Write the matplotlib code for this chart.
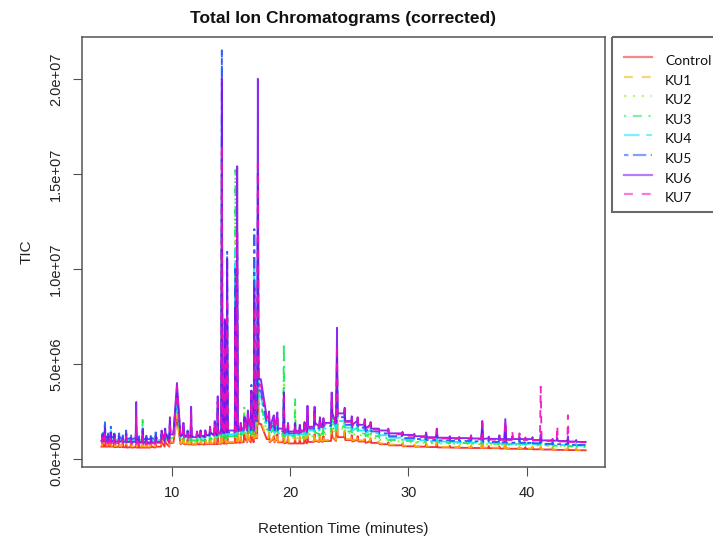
import numpy as np
import matplotlib
matplotlib.use("Agg")
import matplotlib.pyplot as plt
from matplotlib.patches import Rectangle

W, H = 713, 546
plt.rcParams["font.family"] = ["Liberation Sans", "DejaVu Sans"]

samples = ["Control", "KU1", "KU2", "KU3", "KU4", "KU5", "KU6", "KU7"]

# baseline of each run (TIC, x1e6) at these retention times (min)
knot_rt = [4, 5, 6, 7, 8, 9, 10, 11, 12, 13, 14, 15, 16, 17, 17.5, 18, 19, 20, 21, 22,
           23, 24, 25, 26, 27, 28, 29, 30, 31, 32, 33, 34, 35, 36, 37, 38, 39, 40, 41,
           42, 43, 44, 45]

control_base = [0.65, 0.65, 0.62, 0.6, 0.6, 0.65, 0.85, 0.78, 0.76, 0.78, 0.8, 0.85, 0.88, 1.1,
                1.85, 1.05, 0.88, 0.82, 0.82, 0.9, 0.95, 1.15, 1.0, 0.92, 0.85, 0.78, 0.72, 0.67,
                0.65, 0.63, 0.61, 0.6, 0.59, 0.58, 0.57, 0.55, 0.54, 0.53, 0.51, 0.5, 0.48, 0.47, 0.46]
ku1_base = [0.7, 0.7, 0.68, 0.66, 0.66, 0.7, 0.9, 0.82, 0.8, 0.82, 0.85, 0.9, 0.92, 1.15,
            2.0, 1.1, 0.92, 0.88, 0.88, 0.95, 1.0, 1.2, 1.05, 0.98, 0.9, 0.82, 0.76, 0.7,
            0.68, 0.66, 0.64, 0.63, 0.62, 0.61, 0.6, 0.58, 0.57, 0.56, 0.54, 0.52, 0.5, 0.49, 0.48]
ku2_base = [0.9, 0.9, 0.85, 0.85, 0.85, 0.88, 1.05, 0.95, 0.92, 0.95, 1.05, 1.15, 1.2, 1.5,
            2.7, 1.45, 1.2, 1.1, 1.1, 1.2, 1.3, 1.6, 1.35, 1.25, 1.1, 1.0, 0.93, 0.88,
            0.85, 0.83, 0.81, 0.8, 0.79, 0.78, 0.76, 0.75, 0.74, 0.73, 0.71, 0.69, 0.67, 0.65, 0.63]
ku3_base = [0.95, 0.95, 0.9, 0.9, 0.9, 0.92, 1.1, 1.0, 0.98, 1.0, 1.1, 1.2, 1.3, 1.6,
            2.9, 1.55, 1.3, 1.2, 1.2, 1.3, 1.4, 1.7, 1.45, 1.35, 1.2, 1.1, 1.0, 0.95,
            0.9, 0.88, 0.86, 0.85, 0.84, 0.82, 0.8, 0.8, 0.78, 0.77, 0.75, 0.72, 0.7, 0.68, 0.66]
ku4_base = [1.05, 1.05, 1.0, 0.98, 0.98, 1.0, 1.25, 1.15, 1.1, 1.15, 1.25, 1.3, 1.4, 1.85,
            3.3, 1.75, 1.35, 1.25, 1.3, 1.5, 1.6, 2.0, 1.65, 1.5, 1.35, 1.25, 1.12, 1.02,
            0.98, 0.94, 0.92, 0.9, 0.88, 0.86, 0.84, 0.82, 0.8, 0.8, 0.78, 0.76, 0.74, 0.72, 0.7]
ku5_base = [1.15, 1.15, 1.1, 1.05, 1.05, 1.1, 1.35, 1.25, 1.2, 1.25, 1.35, 1.4, 1.5, 2.0,
            3.6, 1.9, 1.45, 1.35, 1.4, 1.6, 1.75, 2.2, 1.8, 1.65, 1.45, 1.35, 1.2, 1.1,
            1.05, 1.0, 0.98, 0.96, 0.95, 0.93, 0.9, 0.88, 0.86, 0.85, 0.83, 0.8, 0.78, 0.75, 0.74]
ku6_base = [0.95, 0.95, 0.9, 0.9, 0.85, 0.9, 1.3, 1.2, 1.15, 1.25, 1.4, 1.5, 1.6, 2.2,
            4.2, 2.2, 1.6, 1.45, 1.5, 1.7, 1.9, 2.4, 2.0, 1.8, 1.6, 1.5, 1.35, 1.27,
            1.2, 1.15, 1.12, 1.1, 1.1, 1.08, 1.06, 1.05, 1.05, 1.05, 1.0, 0.98, 0.95, 0.92, 0.9]
ku7_base = [0.85, 0.85, 0.8, 0.8, 0.8, 0.85, 1.2, 1.15, 1.1, 1.2, 1.35, 1.45, 1.55, 2.1,
            3.9, 2.1, 1.55, 1.4, 1.45, 1.65, 1.85, 2.3, 1.95, 1.75, 1.55, 1.45, 1.3, 1.22,
            1.15, 1.1, 1.08, 1.06, 1.05, 1.04, 1.02, 1.0, 1.0, 1.0, 0.98, 0.95, 0.92, 0.9, 0.88]

# main peaks: retention time, half width (min) and apex of each run (x1e6, None = no peak)
peak_rt = [4.3, 4.8, 5.1, 6.1, 6.95, 7.5, 8.6, 9.1, 9.8, 10.4, 10.95, 11.6, 12.4, 13.6, 13.85,
           14.2, 14.45, 14.65, 15.35, 15.5, 16.1, 16.7, 16.95, 17.25, 18.6, 19.45, 20.4, 21.45,
           22.05, 23.5, 23.95, 26.3, 27.5, 31.5, 32.4, 35.3, 36.25, 37.7, 38.2, 38.8, 39.4,
           41.2, 42.6, 43.5]
peak_hw = [0.05, 0.05, 0.05, 0.05, 0.05, 0.05, 0.05, 0.05, 0.05, 0.3, 0.05, 0.05, 0.05, 0.05, 0.05,
           0.05, 0.05, 0.05, 0.05, 0.05, 0.05, 0.05, 0.05, 0.06, 0.06, 0.05, 0.05, 0.05,
           0.05, 0.06, 0.08, 0.07, 0.06, 0.06, 0.06, 0.05, 0.08, 0.05, 0.08, 0.05, 0.05,
           0.07, 0.05, 0.05]

control_apex = [1.0, 0.9, 0.95, 0.9, 0.95, 1.0, 0.85, 0.95, 1.2, 2.2, 1.1, 1.05, 0.9, 1.1, 1.6,
                11.0, 3.2, 5.0, 6.5, 6.5, 1.4, 2.0, 5.0, 7.0, 1.2, 1.8, 1.1, 1.2,
                1.3, 1.5, 2.6, 1.05, 0.85, 0.8, 0.9, 0.68, 1.0, 0.66, 1.0, None, 0.6,
                0.62, None, 0.6]
ku1_apex = [1.1, 0.95, 1.0, 0.95, 1.0, 1.1, 0.9, 1.0, 1.3, 2.3, 1.2, 1.1, 0.95, 1.2, 1.8,
            12.0, 3.5, 5.5, 7.0, 7.0, 1.5, 2.2, 5.5, 8.0, 1.3, 2.0, 1.2, 1.3,
            1.4, 1.6, 2.8, 1.1, 0.9, 0.85, 0.95, 0.72, 1.05, 0.7, 1.05, None, 0.65,
            0.65, None, 0.62]
ku2_apex = [1.4, 1.2, 1.2, 1.2, 1.3, 1.8, 1.15, 1.25, 1.6, 2.8, 1.4, 1.4, 1.15, 1.5, 2.2,
            15.0, 4.5, 7.0, 13.0, 8.5, 2.5, 2.8, 7.5, 10.0, 1.7, 4.5, 2.6, 1.8,
            1.9, 2.2, 3.8, 1.4, 1.15, 1.05, 1.2, 0.9, 1.4, 0.9, 1.4, None, 0.85,
            0.85, None, 0.8]
ku3_apex = [1.5, 1.3, 1.25, 1.25, 1.4, 2.2, 1.2, 1.3, 1.7, 3.0, 1.5, 1.5, 1.2, 1.6, 2.4,
            16.0, 5.0, 7.5, 15.2, 9.0, 2.7, 3.0, 8.0, 11.0, 1.8, 6.1, 3.2, 1.9,
            2.0, 2.4, 4.2, 1.5, 1.25, 1.1, 1.25, 0.95, 1.5, 0.95, 1.5, None, 0.9,
            0.9, None, 0.85]
ku4_apex = [1.7, 1.5, 1.35, 1.35, 1.5, 1.55, 1.3, 1.4, 1.9, 3.3, 1.7, 1.8, 1.4, 1.8, 2.8,
            18.0, 6.0, 9.0, 11.0, 11.0, 2.0, 3.5, 10.0, 13.0, 2.0, 3.0, 1.7, 2.2,
            2.3, 2.8, 5.0, 1.75, 1.35, 1.2, 1.35, 1.0, 1.7, 1.0, 1.7, None, 0.95,
            1.0, None, 0.95]
ku5_apex = [2.0, 1.7, 1.45, 1.5, 1.6, 1.6, 1.4, 1.5, 2.0, 3.5, 1.8, 2.0, 1.5, 1.9, 3.0,
            21.5, 7.4, 10.9, 10.0, 12.0, 2.1, 3.9, 12.1, 15.0, 2.1, 3.3, 1.8, 2.4,
            2.5, 3.0, 5.5, 1.9, 1.45, 1.25, 1.45, 1.1, 1.8, 1.05, 1.85, None, 1.0,
            1.1, None, 1.0]
ku6_apex = [1.6, 1.4, 1.3, 1.3, 3.0, 1.5, 1.2, 1.5, 2.2, 4.0, 1.9, 2.75, 1.5, 2.0, 3.3,
            20.0, 7.3, 10.5, 8.0, 15.4, 2.2, 3.6, 9.0, 20.0, 2.3, 3.5, 1.9, 2.8,
            2.75, 3.5, 6.9, 2.1, 1.6, 1.4, 1.6, 1.25, 2.0, 1.25, 2.1, 1.2, 1.15,
            1.3, 1.1, 1.2]
ku7_apex = [1.4, 1.2, 1.15, 1.2, 2.2, 1.4, 1.1, 1.4, 2.0, 3.8, 1.8, 2.4, 1.4, 1.9, 3.0,
            16.5, 6.0, 8.5, 7.0, 12.0, 2.1, 3.4, 8.0, 15.5, 2.2, 3.2, 1.8, 2.6,
            2.6, 3.3, 6.0, 2.0, 1.55, 1.35, 1.55, 1.2, 1.9, 1.2, 2.0, 1.45, 1.35,
            3.8, 1.75, 2.3]

# small baseline peaks seen in every run: time (min) and rise above baseline (x1e6)
minor_rt = [4.1, 4.55, 5.5, 5.8, 6.5, 7.2, 7.8, 8.2, 9.4, 11.3, 12.1, 12.8, 13.2, 15.8,
            16.4, 18.2, 18.9, 19.8, 20.8, 21.2, 22.5, 22.8, 24.6, 25.2, 25.7, 26.8, 28.3,
            29.5, 30.5, 33.5, 34.3, 36.8, 39.9, 40.5, 42.2, 44.2]
minor_rise = [0.3, 0.25, 0.2, 0.15, 0.2, 0.15, 0.25, 0.2, 0.25, 0.25, 0.2, 0.25, 0.3, 0.3,
              0.35, 0.3, 0.25, 0.3, 0.3, 0.25, 0.3, 0.25, 0.3, 0.25, 0.2, 0.15, 0.1,
              0.08, 0.06, 0.08, 0.06, 0.1, 0.08, 0.1, 0.08, 0.08]

bases = [control_base, ku1_base, ku2_base, ku3_base, ku4_base, ku5_base, ku6_base, ku7_base]
apexes = [control_apex, ku1_apex, ku2_apex, ku3_apex, ku4_apex, ku5_apex, ku6_apex, ku7_apex]

colors = ["#F82020", "#F8B010", "#80F020", "#10E850", "#10E8F0", "#2050F8", "#8010F0", "#F010B8"]
styles = ["-", (0, (4, 4)), (0, (1, 3)), (0, (1, 3, 4, 3)), (0, (7, 3)),
          (0, (2, 2, 6, 2)), "-", (0, (4, 4))]


def trace(base, apex):
    knots = np.asarray(knot_rt, dtype=float)
    pts = list(zip(knots, base))
    for t, hw, a in zip(peak_rt, peak_hw, apex):
        if a is None:
            continue
        i = int(np.searchsorted(knots, t))
        pts += [(t - hw, base[i - 1]), (t, a), (t + hw, base[i])]
    for t, rise in zip(minor_rt, minor_rise):
        i = int(np.searchsorted(knots, t))
        top = max(base[i - 1], base[i]) + rise
        pts += [(t - 0.05, base[i - 1]), (t, top), (t + 0.05, base[i])]
    pts.sort()
    t, y = np.array(pts).T
    return t, y * 1e6


fig = plt.figure(figsize=(W / 100, H / 100), dpi=100)
ax = fig.add_axes([82 / W, 1 - 467 / H, (605 - 82) / W, (467 - 37) / H])

for base, apex, col, ls in zip(bases, apexes, colors, styles):
    t, y = trace(base, apex)
    ax.plot(t, y, color=col, ls=ls, lw=1.35, alpha=0.9)

ax.set_xlim(2.36, 46.64)
ax.set_ylim(-4.2e5, 2.22e7)
ax.set_xticks([10, 20, 30, 40])
yt = [0, 5e6, 1e7, 1.5e7, 2e7]
ax.set_yticks(yt)
ax.set_yticklabels(["0.0e+00", "5.0e+06", "1.0e+07", "1.5e+07", "2.0e+07"],
                   rotation=90, va="center")
ax.tick_params(length=6.5, width=0.8, color="#505050", labelsize=10.5, pad=7,
               labelcolor="#222222")
for s in ax.spines.values():
    s.set_color("#555555")
    s.set_linewidth(1.1)

fig.text(343.5 / W, 1 - 19 / H, "Total Ion Chromatograms (corrected)",
         weight="bold", fontsize=12.5, ha="center", va="center", color="#111111")
fig.text(343.5 / W, 1 - 529 / H, "Retention Time (minutes)", fontsize=11,
         ha="center", va="center", color="#222222")
fig.text(27 / W, 1 - 252 / H, "TIC", fontsize=11, rotation=90,
         ha="center", va="center", color="#222222")

# legend box at the right edge
lax = fig.add_axes([0, 0, 1, 1])
lax.set_xlim(0, W)
lax.set_ylim(H, 0)
lax.axis("off")
lax.add_patch(Rectangle((612, 37), 160, 175, fill=False, ec="#6a6a6a", lw=1.5, clip_on=False))
for i, (name, col, ls) in enumerate(zip(samples, colors, styles)):
    yy = 57 + 19.6 * i
    lax.plot([624, 652], [yy, yy], color=col, ls=ls, lw=1.6, alpha=0.55)
    lax.text(665, yy + 4, name, family=["Lato", "Liberation Sans"], fontsize=10,
             va="center", ha="left", color="#111111")

fig.savefig("out.png", dpi=100)
